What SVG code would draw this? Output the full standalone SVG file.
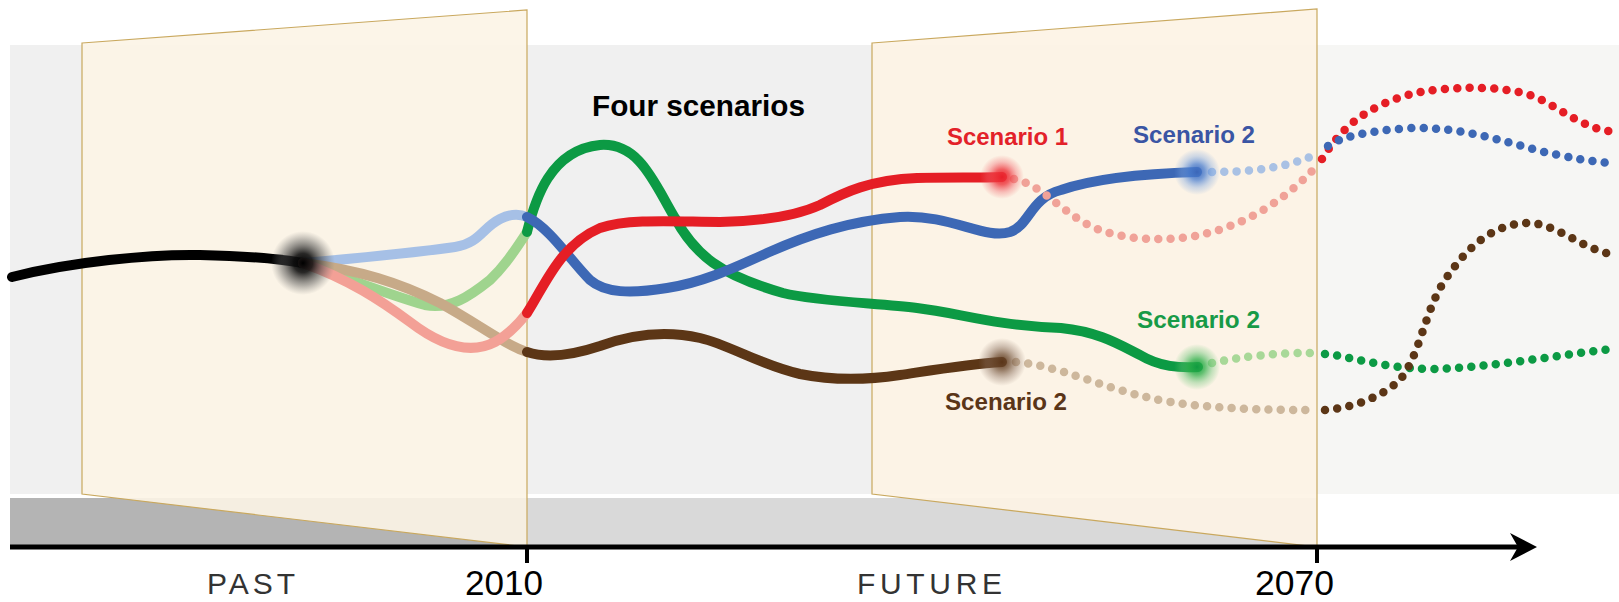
<svg xmlns="http://www.w3.org/2000/svg" width="1619" height="602" viewBox="0 0 1619 602">
<style>
.ln{fill:none;stroke-width:10;stroke-linecap:round;stroke-linejoin:round}
.dt{fill:none;stroke-width:8.5;stroke-linecap:round;stroke-dasharray:0 12.3}
.panel{stroke:#c9a85e;stroke-width:1.2}
.lbl{font-family:"Liberation Sans",Arial,sans-serif;font-weight:bold;font-size:24px}
.ax{font-family:"Liberation Sans",Arial,sans-serif;fill:#333}
</style>
<defs>
<radialGradient id="gBlack"><stop offset="0" stop-color="#000"/><stop offset="0.3" stop-color="#111" stop-opacity="0.9"/><stop offset="0.7" stop-color="#555" stop-opacity="0.45"/><stop offset="1" stop-color="#777" stop-opacity="0"/></radialGradient>
<radialGradient id="gRed"><stop offset="0" stop-color="#e8202a"/><stop offset="0.35" stop-color="#ee3a40" stop-opacity="0.8"/><stop offset="0.7" stop-color="#f06068" stop-opacity="0.35"/><stop offset="1" stop-color="#f06060" stop-opacity="0"/></radialGradient>
<radialGradient id="gBlue"><stop offset="0" stop-color="#3b66b8"/><stop offset="0.35" stop-color="#4c7fd0" stop-opacity="0.75"/><stop offset="0.7" stop-color="#7aa4e0" stop-opacity="0.35"/><stop offset="1" stop-color="#6a9ae0" stop-opacity="0"/></radialGradient>
<radialGradient id="gGreen"><stop offset="0" stop-color="#109a40"/><stop offset="0.35" stop-color="#2fb04a" stop-opacity="0.75"/><stop offset="0.7" stop-color="#60c070" stop-opacity="0.35"/><stop offset="1" stop-color="#50c060" stop-opacity="0"/></radialGradient>
<radialGradient id="gBrown"><stop offset="0" stop-color="#5a3518"/><stop offset="0.35" stop-color="#6e4d33" stop-opacity="0.7"/><stop offset="0.7" stop-color="#8a7060" stop-opacity="0.35"/><stop offset="1" stop-color="#8a7060" stop-opacity="0"/></radialGradient>
</defs>

<g id="background">
<rect x="10" y="45" width="1307" height="449" fill="#f0f0f0"/>
<rect x="1317" y="45" width="302" height="449" fill="#f6f6f4"/>
<rect x="10" y="498" width="517" height="49" fill="#b4b4b4"/>
<rect x="527" y="498" width="790" height="49" fill="#d9d9d9"/>
</g>

<g id="panel-past">
<polygon class="panel" points="82,43 527,10 527,547 82,494" fill="#fcf4e6" fill-opacity="0.9"/>
</g>
<g id="panel-future">
<polygon class="panel" points="872,43 1317,9 1317,547 872,494" fill="#fdf3e4" fill-opacity="0.9"/>
</g>

<g id="connectors">
<path class="ln" stroke="#000" d="M12,277 C70,262 150,254 200,255 S280,259 303,263"/>
<path class="ln" stroke="#a6c0e6" d="M303,263 C360,258 420,252 455,247 C480,243 482,228 500,219 C510,214 520,214 527,217"/>
<path class="ln" stroke="#9fd48e" d="M303,263 C340,276 390,295 425,305 C450,310 470,296 490,280 C505,266 515,250 527,232"/>
<path class="ln" stroke="#c7aa88" d="M303,263 C360,270 400,283 440,303 C480,325 505,345 527,352"/>
<path class="ln" stroke="#f3a096" d="M303,263 C350,280 380,300 410,322 C440,345 470,355 495,342 C510,334 520,322 527,313"/>

<path class="ln" stroke="#0c9a44" d="M527,232 C535,200 550,150 600,145 C640,142 655,185 675,218 C695,255 720,275 783,293 C820,302 880,303 917,308 C960,313 990,325 1061,328 C1100,332 1120,345 1140,355 C1160,367 1180,368 1198,367"/>
<path class="ln" stroke="#3d68b5" d="M527,217 C550,228 570,260 590,280 C605,293 630,294 667,288 C700,283 730,270 767,253 C810,234 850,221 900,217 C950,214 985,240 1010,232 C1030,225 1030,198 1061,190 C1090,180 1130,174 1197,172"/>
<path class="ln" stroke="#e51e25" d="M527,313 C545,285 560,245 600,228 C630,218 680,222 720,222 C770,221 800,214 820,205 C845,192 870,180 917,178 C950,177 980,178 1002,177"/>
<path class="ln" stroke="#5c3616" d="M527,352 C545,358 570,356 600,346 C630,335 665,330 700,338 C730,345 760,365 800,374 C830,380 860,381 900,375 C940,369 970,364 1002,362"/>

<path class="dt" stroke="#f0a298" d="M1014,179 C1040,185 1055,205 1083,222 C1110,238 1150,242 1190,237 C1240,228 1280,205 1317,166"/>
<path class="dt" stroke="#e51e25" d="M1322,159 C1338,133 1362,105 1420,92 C1460,86 1510,85 1540,99 C1565,112 1585,128 1609,131"/>
<path class="dt" stroke="#a9c1e4" d="M1212,172 C1250,172 1290,168 1318,153"/>
<path class="dt" stroke="#3d68b5" d="M1328,146 C1340,138 1362,131 1412,128 C1460,127 1500,140 1540,151 C1570,158 1590,161 1609,163"/>
<path class="dt" stroke="#a8d898" d="M1212,363 C1240,357 1280,352 1313,353"/>
<path class="dt" stroke="#0c9a44" d="M1325,354 C1350,356 1380,368 1430,369 C1490,368 1550,356 1611,349"/>
<path class="dt" stroke="#cdb79c" d="M1016,362 C1050,365 1080,378 1120,390 C1160,402 1200,410 1313,410"/>
<path class="dt" stroke="#5c3616" d="M1325,410 C1352,408 1380,398 1400,380 C1420,355 1425,310 1445,280 C1465,250 1490,225 1526,223 C1555,222 1580,248 1611,254"/>
</g>

<g id="node-start"><circle cx="303" cy="263" r="32" fill="url(#gBlack)"/></g>
<g id="node-red"><circle cx="1002" cy="177" r="22" fill="url(#gRed)"/></g>
<g id="node-blue"><circle cx="1197" cy="172" r="23" fill="url(#gBlue)"/></g>
<g id="node-green"><circle cx="1197" cy="367" r="23" fill="url(#gGreen)"/></g>
<g id="node-brown"><circle cx="1002" cy="362" r="24" fill="url(#gBrown)"/></g>

<g id="title"><text x="592" y="116" font-family="Liberation Sans,Arial,sans-serif" font-weight="bold" font-size="29.5" textLength="213" lengthAdjust="spacingAndGlyphs" fill="#000">Four scenarios</text></g>
<g id="label-s1-red"><text class="lbl" x="947" y="145" fill="#e32129" textLength="121" lengthAdjust="spacingAndGlyphs">Scenario 1</text></g>
<g id="label-s2-blue"><text class="lbl" x="1133" y="143" fill="#3a55a4" textLength="122" lengthAdjust="spacingAndGlyphs">Scenario 2</text></g>
<g id="label-s2-green"><text class="lbl" x="1137" y="328" fill="#179a47" textLength="123" lengthAdjust="spacingAndGlyphs">Scenario 2</text></g>
<g id="label-s2-brown"><text class="lbl" x="945" y="410" fill="#5a3518" textLength="122" lengthAdjust="spacingAndGlyphs">Scenario 2</text></g>

<g id="axis">
<line x1="10" y1="547" x2="1522" y2="547" stroke="#000" stroke-width="5"/>
<path d="M1510,533 L1537,547 L1510,561 L1518,547 Z" fill="#000"/>
<line x1="527" y1="547" x2="527" y2="563" stroke="#000" stroke-width="4"/>
<line x1="1317" y1="547" x2="1317" y2="563" stroke="#000" stroke-width="4"/>
<text class="ax" x="207" y="594" font-size="30" textLength="88" lengthAdjust="spacing">PAST</text>
<text class="ax" x="857" y="594" font-size="30" textLength="145" lengthAdjust="spacing">FUTURE</text>
<text x="465" y="595" font-family="Liberation Sans,Arial,sans-serif" font-size="35" fill="#000" textLength="78" lengthAdjust="spacingAndGlyphs">2010</text>
<text x="1255" y="595" font-family="Liberation Sans,Arial,sans-serif" font-size="35" fill="#000" textLength="79" lengthAdjust="spacingAndGlyphs">2070</text>
</g>
</svg>
